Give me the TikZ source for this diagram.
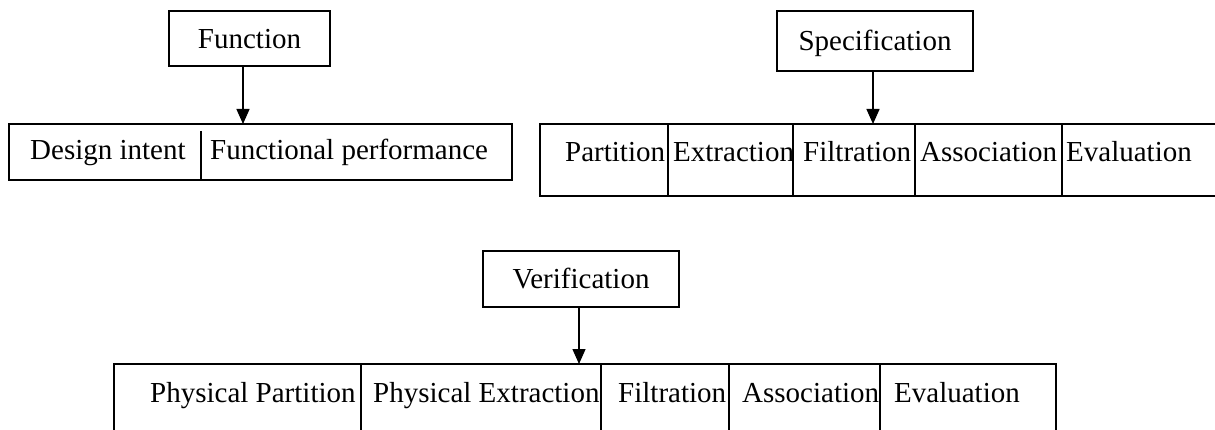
\documentclass[tikz,border=0pt]{standalone}
\usepackage{fontspec}
\setmainfont{Liberation Serif}
\usetikzlibrary{arrows.meta}
\begin{document}
\begin{tikzpicture}[x=1pt,y=-1pt,
  frame/.style={draw, line width=1.4pt, inner sep=0pt, outer sep=0pt},
  head/.style={frame, font=\fontsize{29}{34}\selectfont, text height=20pt, text depth=0pt},
  cell/.style={anchor=base west, inner sep=0pt, font=\fontsize{29}{34}\selectfont},
  divider/.style={line width=1.1pt},
  link/.style={line width=1.4pt, -{Triangle[width=13pt,length=15pt]}}]
\useasboundingbox (0,0) rectangle (1215,430);

% --- Function ---
\node[head, minimum width=161pt, minimum height=55pt] (fn) at (249.5,38.5) {Function};
\node[frame, minimum width=503pt, minimum height=56pt] (fnrow) at (260.5,152) {};
\draw[divider] (201,131) -- (201,180);
\node[cell] (fn1) at (30,160) {Design intent};
\node[cell] (fn2) at (210,160) {Functional performance};
\coordinate (fnx) at (243,0);
\draw[link] (fn.south -| fnx) -- (fnrow.north -| fnx);

% --- Specification ---
\node[head, minimum width=196pt, minimum height=60pt] (sp) at (875,41) {Specification};
\node[frame, minimum width=682pt, minimum height=72pt] (sprow) at (881,160) {};
\foreach \x in {668,793,915,1062} \draw[divider] (\x,124) -- (\x,196);
\node[cell] (sp1) at (565,162) {Partition};
\node[cell] (sp2) at (673,162) {Extraction};
\node[cell] (sp3) at (803,162) {Filtration};
\node[cell] (sp4) at (920,162) {Association};
\node[cell] (sp5) at (1066,162) {Evaluation};
\coordinate (spx) at (873,0);
\draw[link] (sp.south -| spx) -- (sprow.north -| spx);

% --- Verification ---
\node[head, minimum width=196pt, minimum height=56pt] (vf) at (581,279) {Verification};
\node[frame, minimum width=942pt, minimum height=78pt] (vfrow) at (585,403) {};
\foreach \x in {361,601,729,880} \draw[divider] (\x,364) -- (\x,442);
\node[cell] (vf1) at (150,402) {Physical Partition};
\node[cell] (vf2) at (373,402) {Physical Extraction};
\node[cell] (vf3) at (618,402) {Filtration};
\node[cell] (vf4) at (742,402) {Association};
\node[cell] (vf5) at (894,402) {Evaluation};
\coordinate (vfx) at (579,0);
\draw[link] (vf.south -| vfx) -- (vfrow.north -| vfx);
\end{tikzpicture}
\end{document}
